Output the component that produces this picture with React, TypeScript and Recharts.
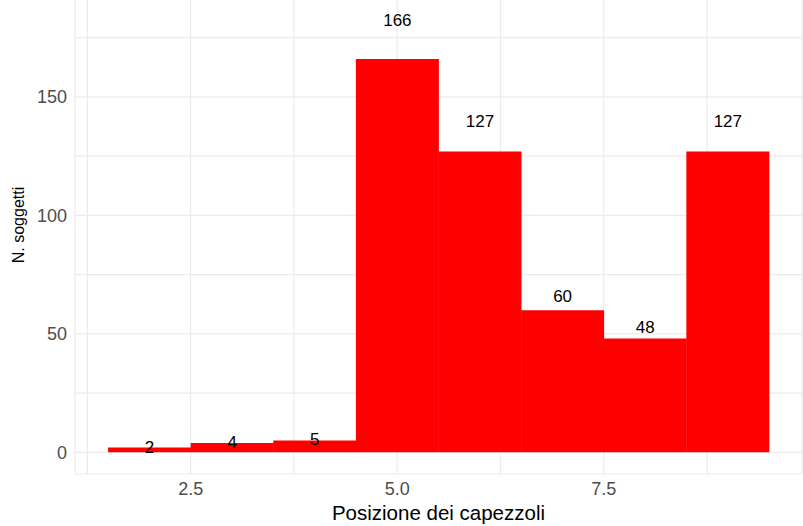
import React from "react";
import { BarChart, Bar, XAxis, YAxis, CartesianGrid, LabelList, Label } from "recharts";

const positions = [2, 3, 4, 5, 6, 7, 8, 9];
const counts = [2, 4, 5, 166, 127, 60, 48, 127];
const xTicks = [1.25, 2.5, 3.75, 5, 6.25, 7.5, 8.75];
const xMajor = [2.5, 5, 7.5];
const yTicks = [0, 25, 50, 75, 100, 125, 150, 175];
const yMajor = [0, 50, 100, 150];

const data = positions.map((p, i) => ({ pos: p, n: counts[i] }));

const FONT = '"Liberation Sans", Arial, Helvetica, sans-serif';

// labels sit at 1.1 x count, like the original geom_text(y = ..count.. * 1.1)
const CountLabel = (props: any) => {
  const vb = props.viewBox ?? props;
  const x = props.x ?? vb.x;
  const y = props.y ?? vb.y;
  const width = props.width ?? vb.width;
  const height = props.height ?? vb.height;
  const base = y + height;
  const cy = base - height * 1.1;
  return (
    <text
      x={x + width / 2}
      y={cy}
      dy="0.36em"
      textAnchor="middle"
      fontSize={17}
      fontFamily={FONT}
      fill="#000"
    >
      {props.value}
    </text>
  );
};

const YTitle = (props: any) => {
  const vb = props.viewBox;
  const cx = 23.5;
  const cy = vb.y + vb.height / 2 - 11;
  return (
    <text
      x={cx}
      y={cy}
      transform={`rotate(-90, ${cx}, ${cy})`}
      textAnchor="middle"
      fontSize={16}
      fontFamily={FONT}
      fill="#000"
    >
      N. soggetti
    </text>
  );
};

export default function App() {
  return (
    <div style={{ position: "absolute", left: 0, top: 0, background: "#fff" }}>
      <BarChart
        width={803}
        height={526}
        data={data}
        margin={{ top: -2, right: 1, left: 0, bottom: 0 }}
        barCategoryGap={0}
        barGap={0}
      >
        <CartesianGrid stroke="#EBEBEB" strokeWidth={1.2} />
        <XAxis
          dataKey="pos"
          type="number"
          domain={[1.1, 9.9]}
          ticks={xTicks}
          tickFormatter={(v: number) => (xMajor.includes(v) ? v.toFixed(1) : "")}
          axisLine={false}
          tickLine={false}
          tickSize={0}
          tickMargin={8}
          height={52}
          tick={{ fill: "#4D4D4D", fontSize: 18, fontFamily: FONT }}
          allowDataOverflow
        >
          <Label
            value="Posizione dei capezzoli"
            position="insideBottom"
            offset={6}
            fill="#000"
            fontSize={20.5}
            fontFamily={FONT}
          />
        </XAxis>
        <YAxis
          type="number"
          domain={[-9.13, 191.73]}
          ticks={yTicks}
          tickFormatter={(v: number) => (yMajor.includes(v) ? String(v) : "")}
          axisLine={false}
          tickLine={false}
          tickSize={0}
          tickMargin={8}
          width={75}
          tick={{ fill: "#4D4D4D", fontSize: 18, fontFamily: FONT }}
          allowDataOverflow
        >
          <Label content={<YTitle />} />
        </YAxis>
        <Bar dataKey="n" fill="#FF0000" isAnimationActive={false}>
          <LabelList dataKey="n" content={<CountLabel />} />
        </Bar>
      </BarChart>
    </div>
  );
}
